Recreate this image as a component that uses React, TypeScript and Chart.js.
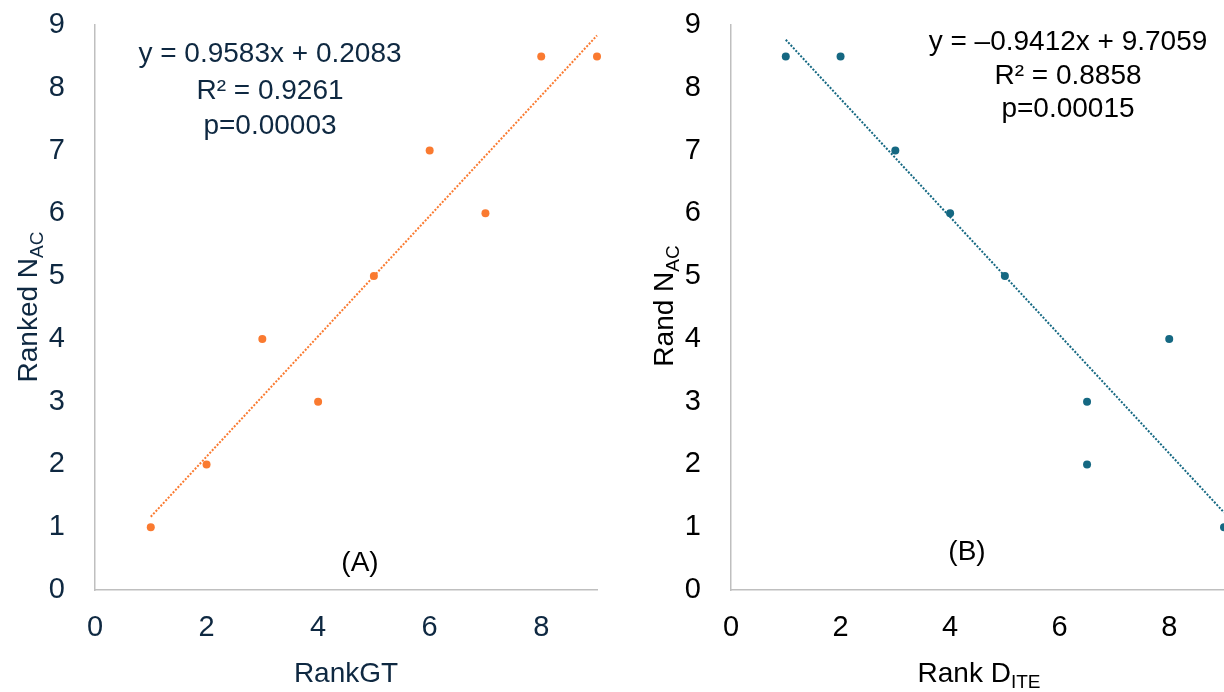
import React, { useEffect, useRef } from 'react';
import { Chart, registerables } from 'chart.js';

Chart.register(...registerables);

// ---------- data ----------
const rankGT = [1, 2, 3, 4, 5, 6, 7, 8, 9];
const rankedNAC = [1, 2, 4, 3, 5, 7, 6, 8.5, 8.5];
const rankDITE = [1, 2, 3, 4, 5, 6.5, 6.5, 8, 9];
const randNAC = [8.5, 8.5, 7, 6, 5, 3, 2, 4, 1];
const xTickValues = [0, 2, 4, 6, 8];
const yTickValues = [0, 1, 2, 3, 4, 5, 6, 7, 8, 9];
const trendA = { slope: 0.9583, intercept: 0.2083, from: 1, to: 9 };
const trendB = { slope: -0.9412, intercept: 9.7059, from: 1, to: 9 };
const statsA = ['y = 0.9583x + 0.2083', 'R² = 0.9261', 'p=0.00003'];
const statsB = ['y = –0.9412x + 9.7059', 'R² = 0.8858', 'p=0.00015'];

const FONT = '"Liberation Sans", Arial, sans-serif';

type Panel = {
  xs: number[];
  ys: number[];
  trend: { slope: number; intercept: number; from: number; to: number };
  stats: string[];
  color: string;
  textColor: string;
  yAxisWidth: number;
  padRight: number;
  eqX: number;
  eqBaselines: number[];
  panelLabel: string;
  panelX: number;
  panelBaseline: number;
  yTitle: [string, string];
  yTitleX: number;
  yTitleY: number;
  xTitle: [string, string];
  xTitleX: number;
  xTitleY: number;
};

function drawSub(ctx: CanvasRenderingContext2D, main: string, sub: string, cx: number, cy: number) {
  ctx.font = `28px ${FONT}`;
  const mw = ctx.measureText(main).width;
  ctx.font = `19px ${FONT}`;
  const sw = ctx.measureText(sub).width;
  const start = cx - (mw + sw) / 2;
  ctx.textAlign = 'left';
  ctx.textBaseline = 'alphabetic';
  ctx.font = `28px ${FONT}`;
  ctx.fillText(main, start, cy);
  ctx.font = `19px ${FONT}`;
  ctx.fillText(sub, start + mw, cy + 6);
}

function makeConfig(p: Panel): any {
  const overlay = {
    id: 'overlay',
    afterDraw(chart: any) {
      const ctx: CanvasRenderingContext2D = chart.ctx;
      ctx.save();
      ctx.fillStyle = p.textColor;
      ctx.textAlign = 'center';
      ctx.textBaseline = 'alphabetic';
      ctx.font = `28px ${FONT}`;
      p.stats.forEach((s, i) => ctx.fillText(s, p.eqX, p.eqBaselines[i]));
      ctx.fillStyle = '#000000';
      ctx.fillText(p.panelLabel, p.panelX, p.panelBaseline);
      ctx.fillStyle = p.textColor;
      drawSub(ctx, p.xTitle[0], p.xTitle[1], p.xTitleX, p.xTitleY);
      ctx.save();
      ctx.translate(p.yTitleX, p.yTitleY);
      ctx.rotate(-Math.PI / 2);
      drawSub(ctx, p.yTitle[0], p.yTitle[1], 0, 0);
      ctx.restore();
      ctx.restore();
    },
  };
  const t = p.trend;
  return {
    type: 'scatter',
    data: {
      datasets: [
        {
          data: [
            { x: t.from, y: t.slope * t.from + t.intercept },
            { x: t.to, y: t.slope * t.to + t.intercept },
          ],
          showLine: true,
          borderColor: p.color,
          borderWidth: 2,
          borderDash: [2, 1.6],
          pointRadius: 0,
          clip: false,
        },
        {
          data: p.xs.map((x, i) => ({ x, y: p.ys[i] })),
          pointRadius: 4,
          pointBackgroundColor: p.color,
          pointBorderWidth: 0,
          borderWidth: 0,
          clip: false,
        },
      ],
    },
    options: {
      animation: false,
      responsive: false,
      events: [],
      layout: { autoPadding: false, padding: { top: 25, right: p.padRight, left: 0, bottom: 0 } },
      plugins: { legend: { display: false }, tooltip: { enabled: false } },
      scales: {
        x: {
          type: 'linear',
          min: 0,
          max: 9,
          afterBuildTicks: (s: any) => {
            s.ticks = xTickValues.map((v) => ({ value: v }));
          },
          afterFit: (s: any) => {
            s.height = 102;
            s.paddingLeft = 0;
            s.paddingRight = 0;
          },
          grid: { display: false, drawTicks: false },
          border: { display: true, color: '#BFBFBF', width: 1.5 },
          ticks: { color: p.textColor, font: { family: FONT, size: 29 }, padding: 21, maxRotation: 0 },
        },
        y: {
          type: 'linear',
          min: 0,
          max: 9,
          afterBuildTicks: (s: any) => {
            s.ticks = yTickValues.map((v) => ({ value: v }));
          },
          afterFit: (s: any) => {
            s.width = p.yAxisWidth;
            s.paddingTop = 0;
            s.paddingBottom = 0;
          },
          grid: { display: false, drawTicks: false },
          border: { display: true, color: '#BFBFBF', width: 1.5 },
          ticks: { color: p.textColor, font: { family: FONT, size: 29 }, padding: 30 },
        },
      },
    },
    plugins: [overlay],
  };
}

const panelA: Panel = {
  xs: rankGT,
  ys: rankedNAC,
  trend: trendA,
  stats: statsA,
  color: '#FA7A30',
  textColor: '#0E2841',
  yAxisWidth: 95,
  padRight: 15,
  eqX: 270,
  eqBaselines: [62, 99, 134],
  panelLabel: '(A)',
  panelX: 360,
  panelBaseline: 571,
  yTitle: ['Ranked N', 'AC'],
  yTitleX: 37,
  yTitleY: 307,
  xTitle: ['RankGT', ''],
  xTitleX: 346,
  xTitleY: 682,
};

const panelB: Panel = {
  xs: rankDITE,
  ys: randNAC,
  trend: trendB,
  stats: statsB,
  color: '#156882',
  textColor: '#000000',
  yAxisWidth: 119,
  padRight: 0,
  eqX: 456,
  eqBaselines: [50, 84, 117],
  panelLabel: '(B)',
  panelX: 355,
  panelBaseline: 560,
  yTitle: ['Rand N', 'AC'],
  yTitleX: 61,
  yTitleY: 306,
  xTitle: ['Rank D', 'ITE'],
  xTitleX: 367,
  xTitleY: 682,
};

function ChartPanel({ panel, left }: { panel: Panel; left: number }) {
  const ref = useRef<HTMLCanvasElement | null>(null);
  useEffect(() => {
    if (!ref.current) return;
    const chart = new Chart(ref.current, makeConfig(panel));
    return () => chart.destroy();
  }, [panel]);
  return (
    <canvas
      ref={ref}
      width={612}
      height={692}
      style={{ position: 'absolute', left, top: 0, width: 612, height: 692 }}
    />
  );
}

export default function App() {
  return (
    <div style={{ position: 'absolute', left: 0, top: 0, width: 1224, height: 692, background: '#ffffff', overflow: 'hidden' }}>
      <ChartPanel panel={panelA} left={0} />
      <ChartPanel panel={panelB} left={612} />
    </div>
  );
}
